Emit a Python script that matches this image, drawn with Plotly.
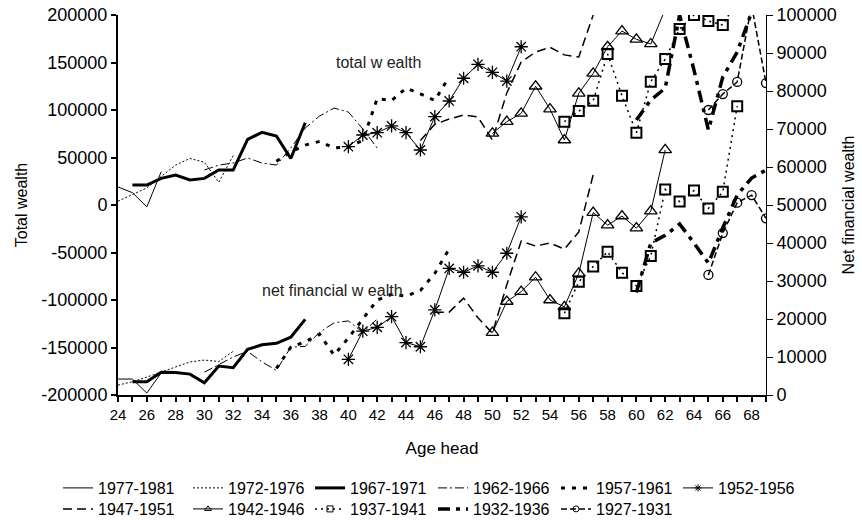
import plotly.graph_objects as go

# ---- data ----
cohorts = ["1977-1981", "1972-1976", "1967-1971", "1962-1966", "1957-1961", "1952-1956",
           "1947-1951", "1942-1946", "1937-1941", "1932-1936", "1927-1931"]

total_start = [24, 24, 25, 30, 35, 40, 45, 50, 55, 60, 65]
net_start = [24, 24, 25, 30, 35, 40, 46, 50, 55, 60, 65]

total_1977_1981 = [19000, 13000, -2000, 35000]
net_1977_1981 = [4200, 4200, 500, 5800]

total_1972_1976 = [4000, 11000, 18000, 30000, 42000, 49000, 45000, 24000, 52000]
net_1972_1976 = [2600, 3500, 4700, 6000, 7500, 8700, 9200, 8800, 11500]

total_1967_1971 = [21000, 21000, 28000, 31600, 26300, 28000, 36800, 36800, 69000, 76500, 72600, 49000, 86600]
net_1967_1971 = [3500, 3500, 6000, 5900, 5500, 3200, 7600, 7200, 12000, 13200, 13600, 15200, 19900]

total_1962_1966 = [36800, 42000, 44200, 49500, 44200, 42000, 60000, 81000, 93700, 102000, 97900, 80000, 60000]
net_1962_1966 = [6000, 7900, 10000, 11500, 8700, 6500, 12600, 12800, 16500, 19000, 19500, 16500, 20000]

total_1957_1961 = [46000, 56000, 63000, 67000, 60000, 61000, 68000, 112000, 110000, 123000, 117000, 110000, 135000]
net_1957_1961 = [7000, 12600, 14000, 16000, 10500, 15000, 20000, 25000, 26500, 26000, 27500, 32000, 38500]

total_1952_1956 = [61400, 73700, 76100, 83200, 76100, 57900, 93000, 109500, 133400, 148100, 139700, 130500, 166600]
net_1952_1956 = [9400, 16800, 17800, 20600, 13800, 12700, 22400, 33300, 32300, 34000, 32300, 37300, 46900]

total_1947_1951 = [68000, 85000, 90500, 94700, 92600, 68400, 118000, 150500, 161000, 166000, 158000, 155800, 200000]
net_1947_1951 = [21800, 21800, 25500, 20300, 16300, 29000, 40500, 39200, 40000, 38400, 42900, 58000]

total_1942_1946 = [75400, 87700, 96500, 125000, 101000, 68400, 117600, 138600, 166600, 183100, 174400, 169500, 206000]
net_1942_1946 = [16400, 24600, 27200, 31000, 25000, 23200, 32000, 48000, 44700, 47100, 43900, 48400, 64500]

total_1937_1941 = [87700, 98900, 109800, 158900, 115000, 76100, 129800, 153700, 185300, 200000, 193700, 189500, 215000]
net_1937_1941 = [21500, 29800, 33800, 37700, 32200, 28700, 36600, 54100, 50900, 53800, 49100, 53500, 76000]

total_1932_1936 = [89500, 110500, 123000, 200000, 142000, 79000, 134700, 161000, 203000]
net_1932_1936 = [27000, 40000, 42000, 45000, 40000, 34700, 44000, 52600, 57100, 59200]

total_1927_1931 = [100000, 116800, 129500, 210000, 128400]
net_1927_1931 = [31600, 42600, 50600, 52600, 46500]

totals = [total_1977_1981, total_1972_1976, total_1967_1971, total_1962_1966, total_1957_1961,
          total_1952_1956, total_1947_1951, total_1942_1946, total_1937_1941, total_1932_1936,
          total_1927_1931]
nets = [net_1977_1981, net_1972_1976, net_1967_1971, net_1962_1966, net_1957_1961,
        net_1952_1956, net_1947_1951, net_1942_1946, net_1937_1941, net_1932_1936,
        net_1927_1931]

x_ticks = list(range(24, 70))
x_labels = [str(a) if a % 2 == 0 and a <= 68 else "" for a in x_ticks]
left_ticks = list(range(-200000, 200001, 50000))
left_labels = [str(v) for v in left_ticks]
right_ticks = list(range(0, 100001, 10000))
right_labels = [str(v) for v in right_ticks]

# ---- styles ----
styles = [
    dict(line=dict(width=1, dash="solid"), mode="lines"),
    dict(line=dict(width=1, dash="2px,2px"), mode="lines"),
    dict(line=dict(width=3, dash="solid"), mode="lines"),
    dict(line=dict(width=1, dash="9px,3px,2px,3px"), mode="lines"),
    dict(line=dict(width=3, dash="4px,7px"), mode="lines"),
    dict(line=dict(width=1, dash="solid"), mode="lines+markers",
         marker=dict(symbol="asterisk-open", size=11, line=dict(width=1.3, color="black"))),
    dict(line=dict(width=1.5, dash="9px,5px"), mode="lines"),
    dict(line=dict(width=1, dash="solid"), mode="lines+markers",
         marker=dict(symbol="triangle-up-open", size=11, line=dict(width=1.3, color="black"))),
    dict(line=dict(width=1.5, dash="2px,4px"), mode="lines+markers",
         marker=dict(symbol="square-open", size=10, line=dict(width=2, color="black"))),
    dict(line=dict(width=3.5, dash="12px,6px,4px,6px"), mode="lines"),
    dict(line=dict(width=1.5, dash="6px,3px"), mode="lines+markers",
         marker=dict(symbol="circle-open", size=9, line=dict(width=1.3, color="black"))),
]

# legend slots (page px): two rows, columns
legend_cols = [58, 188, 310, 433, 556, 678, 58, 188, 310, 433, 556]
legend_rows = [488, 488, 488, 488, 488, 488, 509, 509, 509, 509, 509]

FW, FH = 862, 520
fig = go.Figure()
for i, name in enumerate(cohorts):
    st = styles[i]
    legend_id = "legend" if i == 0 else "legend%d" % (i + 1)
    ta = list(range(total_start[i], total_start[i] + len(totals[i])))
    na = list(range(net_start[i], net_start[i] + len(nets[i])))
    kw = dict(mode=st["mode"], line=dict(color="black", **st["line"]))
    if "marker" in st:
        kw["marker"] = dict(color="black", **st["marker"])
    fig.add_trace(go.Scatter(x=ta, y=totals[i], name=name, legendgroup=name,
                             showlegend=False, yaxis="y", **kw))
    fig.add_trace(go.Scatter(x=na, y=nets[i], name=name, legendgroup=name,
                             showlegend=False, yaxis="y2", **kw))
    lkw = dict(mode=st["mode"], line=dict(color="black", **st["line"]))
    if "marker" in st:
        m = dict(st["marker"])
        m["size"] = 6
        m["line"] = dict(width=1, color="black")
        lkw["marker"] = dict(color="black", **m)
    fig.add_trace(go.Scatter(x=[None], y=[None], name=name, legendgroup=name,
                             legend=legend_id, showlegend=True, yaxis="y", **lkw))

legends = {}
for i in range(len(cohorts)):
    key = "legend" if i == 0 else "legend%d" % (i + 1)
    legends[key] = dict(orientation="h", xref="container", yref="container",
                        x=legend_cols[i] / FW, y=1 - legend_rows[i] / FH,
                        xanchor="left", yanchor="middle", itemwidth=30,
                        font=dict(size=16), bgcolor="rgba(0,0,0,0)")

font = "Liberation Sans, Arial, sans-serif"
fig.update_layout(
    width=FW, height=FH,
    margin=dict(l=118, r=96, t=15, b=125, autoexpand=False),
    paper_bgcolor="white", plot_bgcolor="white",
    font=dict(family=font, size=16, color="black"),
    showlegend=True,
    xaxis=dict(range=[24, 69], tickvals=x_ticks, ticktext=x_labels, ticks="outside",
               ticklen=5, tickwidth=1.5, tickcolor="black", showline=True, linewidth=2,
               linecolor="black", showgrid=False, zeroline=False, automargin=False,
               tickfont=dict(size=15), title=dict(text="Age head", font=dict(size=17), standoff=20)),
    yaxis=dict(range=[-200000, 200000], tickvals=left_ticks, ticktext=left_labels,
               ticks="outside", ticklen=5, automargin=False, ticklabeloverflow="allow",
               tickwidth=1.5, tickcolor="black", showline=True, linewidth=2, linecolor="black",
               showgrid=False, zeroline=False, tickfont=dict(size=18),
               title=dict(text="Total wealth", font=dict(size=16), standoff=10)),
    yaxis2=dict(range=[0, 100000], tickvals=right_ticks, ticktext=right_labels,
                overlaying="y", side="right", automargin=False, ticklabeloverflow="allow",
                ticks="outside", ticklen=6, tickwidth=1, tickcolor="black", showline=True,
                linewidth=1, linecolor="black", showgrid=False, zeroline=False,
                tickfont=dict(size=18),
                title=dict(text="Net financial wealth", font=dict(size=16), standoff=7)),
    annotations=[
        dict(x=42.1, y=150500, xref="x", yref="y", text="total w ealth", showarrow=False,
             font=dict(size=16, color="#222")),
        dict(x=38.9, y=-89500, xref="x", yref="y", text="net financial w ealth", showarrow=False,
             font=dict(size=16, color="#222")),
    ],
    **legends,
)

fig.write_html("out.html", config={"displayModeBar": False},
               post_script="document.body.style.margin='0';")
